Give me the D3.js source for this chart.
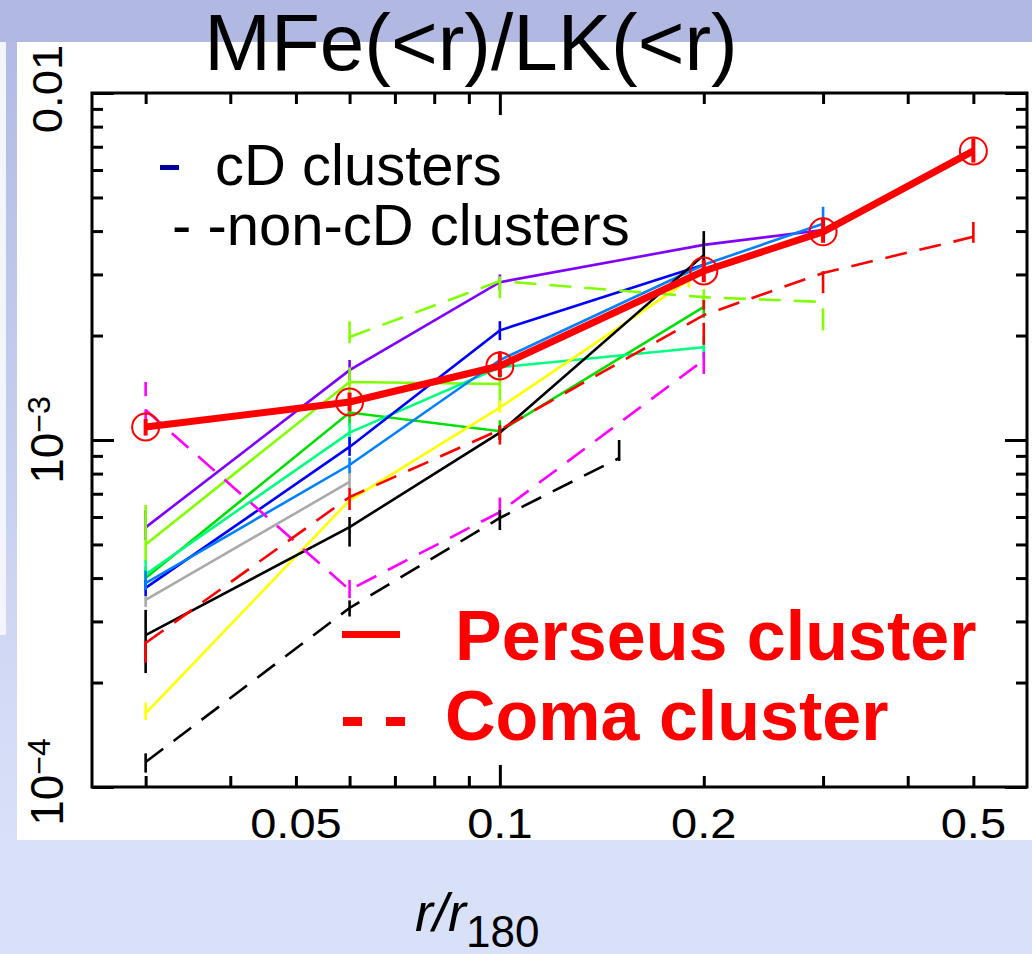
<!DOCTYPE html>
<html>
<head>
<meta charset="utf-8">
<script src="https://cdn.jsdelivr.net/npm/d3@7/dist/d3.min.js"></script>
<style>
  html, body { margin: 0; padding: 0; background: #d9e1f9; }
  svg { display: block; }
  text { font-family: "Liberation Sans", Arial, sans-serif; }
</style>
</head>
<body>
<svg id="chart" width="1032" height="954"></svg>
<script>
// ---- radii (r / r180) sampled by each profile ----
const rAll    = [0.03, 0.06, 0.1, 0.2, 0.3, 0.5];
const rTo03   = [0.03, 0.06, 0.1, 0.2, 0.3];
const rTo02   = [0.03, 0.06, 0.1, 0.2];
const rTo01   = [0.03, 0.06, 0.1];
const rTo006  = [0.03, 0.06];
const rYellow = [0.03, 0.06, 0.1, 0.19];
const rLime   = [0.06, 0.1, 0.2, 0.3];
const rShort  = [0.03, 0.06, 0.1, 0.15];

// ---- MFe(<r)/LK(<r) profiles: value, lower and upper error ----
const purpleVal = [5.6e-4, 1.59e-3, 2.85e-3, 3.65e-3, 4.03e-3];
const purpleLo  = [5.15e-4, 1.49e-3, 2.7e-3, 3.45e-3, 3.9e-3];
const purpleHi  = [6.28e-4, 1.70e-3, 3.0e-3, 3.8e-3, 4.15e-3];

const chartVal  = [5.0e-4, 1.47e-3, 1.45e-3];
const chartLo   = [4.45e-4, 1.36e-3, 1.24e-3];
const chartHi   = [6.5e-4, 1.62e-3, 1.56e-3];

const greenVal  = [4.0e-4, 1.2e-3, 1.06e-3, 2.42e-3];
const greenLo   = [3.7e-4, 1.1e-3, 1.0e-3, 2.25e-3];
const greenHi   = [4.3e-4, 1.3e-3, 1.14e-3, 2.6e-3];

const springVal = [4.1e-4, 1.05e-3, 1.62e-3, 1.85e-3];
const springLo  = [3.95e-4, 9.7e-4, 1.5e-3, 1.72e-3];
const springHi  = [4.5e-4, 1.12e-3, 1.72e-3, 2.0e-3];

const blueVal   = [3.75e-4, 9.55e-4, 2.07e-3, 3.2e-3];
const blueLo    = [3.55e-4, 9.0e-4, 1.94e-3, 3.05e-3];
const blueHi    = [3.95e-4, 1.02e-3, 2.2e-3, 3.35e-3];

const azureVal  = [3.87e-4, 8.47e-4, 1.70e-3, 3.2e-3, 4.2e-3];
const azureLo   = [3.7e-4, 8.0e-4, 1.6e-3, 3.05e-3, 3.9e-3];
const azureHi   = [4.2e-4, 8.9e-4, 1.8e-3, 3.35e-3, 4.7e-3];

const grayVal   = [3.46e-4, 7.57e-4];
const grayLo    = [3.3e-4, 7.2e-4];
const grayHi    = [3.55e-4, 8.0e-4];

const yellowVal = [1.63e-4, 6.7e-4, 1.24e-3, 2.89e-3];
const yellowLo  = [1.56e-4, 6.4e-4, 1.2e-3, 2.75e-3];
const yellowHi  = [1.75e-4, 7.0e-4, 1.3e-3, 3.0e-3];

const blackVal  = [2.74e-4, 5.61e-4, 1.05e-3, 3.41e-3];
const blackLo   = [2.13e-4, 4.93e-4, 1.0e-3, 3.05e-3];
const blackHi   = [3.24e-4, 6.0e-4, 1.1e-3, 4.0e-3];

const comaVal   = [2.6e-4, 6.85e-4, 1.07e-3, 2.29e-3, 3.03e-3, 3.85e-3];
const comaLo    = [2.28e-4, 6.28e-4, 9.7e-4, 1.88e-3, 2.65e-3, 3.7e-3];
const comaHi    = [2.75e-4, 7.4e-4, 1.1e-3, 2.53e-3, 3.33e-3, 4.25e-3];

const magentaVal = [1.22e-3, 3.7e-4, 6.2e-4, 1.7e-3];
const magentaLo  = [1.06e-3, 3.5e-4, 5.9e-4, 1.55e-3];
const magentaHi  = [1.47e-3, 3.95e-4, 6.9e-4, 1.94e-3];

const limeDashVal = [1.98e-3, 2.87e-3, 2.58e-3, 2.5e-3];
const limeDashLo  = [1.9e-3, 2.56e-3, 2.45e-3, 2.07e-3];
const limeDashHi  = [2.22e-3, 3.2e-3, 2.72e-3, 2.55e-3];

const blackDashVal = [1.18e-4, 3.28e-4, 5.96e-4, 8.87e-4];
const blackDashLo  = [1.1e-4, 3.1e-4, 5.5e-4, 8.7e-4];
const blackDashHi  = [1.25e-4, 3.45e-4, 6.28e-4, 1.0e-3];

const perseusVal = [1.09e-3, 1.287e-3, 1.634e-3, 3.07e-3, 3.98e-3, 6.81e-3];
const perseusLo  = [1.03e-3, 1.21e-3, 1.52e-3, 2.85e-3, 3.7e-3, 6.3e-3];
const perseusHi  = [1.15e-3, 1.37e-3, 1.8e-3, 3.3e-3, 4.35e-3, 7.4e-3];

// ---- axis ticks and labels ----
const xMinorTicks = [0.03, 0.04, 0.05, 0.06, 0.07, 0.08, 0.09, 0.2, 0.3, 0.4, 0.5];
const xMajorTicks = [0.1];
const xLabels     = [0.05, 0.1, 0.2, 0.5];
const yMinorTicks = [2e-4, 3e-4, 4e-4, 5e-4, 6e-4, 7e-4, 8e-4, 9e-4,
                     2e-3, 3e-3, 4e-3, 5e-3, 6e-3, 7e-3, 8e-3, 9e-3];
const yMajorTicks = [1e-4, 1e-3, 1e-2];

// ---- series table built from the arrays above ----
const series = [
  { r: rTo03,   v: purpleVal,    lo: purpleLo,    hi: purpleHi,    color: "#8000ff", dash: null },
  { r: rTo01,   v: chartVal,     lo: chartLo,     hi: chartHi,     color: "#80ff00", dash: null },
  { r: rTo02,   v: greenVal,     lo: greenLo,     hi: greenHi,     color: "#00e000", dash: null },
  { r: rTo02,   v: springVal,    lo: springLo,    hi: springHi,    color: "#00ff80", dash: null },
  { r: rTo02,   v: blueVal,      lo: blueLo,      hi: blueHi,      color: "#0000ff", dash: null },
  { r: rTo03,   v: azureVal,     lo: azureLo,     hi: azureHi,     color: "#0080ff", dash: null },
  { r: rTo006,  v: grayVal,      lo: grayLo,      hi: grayHi,      color: "#aaaaaa", dash: null },
  { r: rYellow, v: yellowVal,    lo: yellowLo,    hi: yellowHi,    color: "#ffff00", dash: null },
  { r: rTo02,   v: blackVal,     lo: blackLo,     hi: blackHi,     color: "#000000", dash: null },
  { r: rTo02,   v: magentaVal,   lo: magentaLo,   hi: magentaHi,   color: "#ff00ff", dash: "22,13" },
  { r: rLime,   v: limeDashVal,  lo: limeDashLo,  hi: limeDashHi,  color: "#80ff00", dash: "22,13" },
  { r: rShort,  v: blackDashVal, lo: blackDashLo, hi: blackDashHi, color: "#000000", dash: "22,13" },
  { r: rAll,    v: comaVal,      lo: comaLo,      hi: comaHi,      color: "#ff0000", dash: "22,13" }
];

const svg = d3.select("#chart");
const W = 1032, H = 954;

// ---- slide backdrop ----
const defs = svg.append("defs");
const grad = defs.append("linearGradient").attr("id", "sideGrad")
  .attr("x1", 0).attr("y1", 0).attr("x2", 0).attr("y2", 1);
grad.append("stop").attr("offset", "0%").attr("stop-color", "#b3bbe5");
grad.append("stop").attr("offset", "100%").attr("stop-color", "#d9e1f9");

svg.append("rect").attr("x", 0).attr("y", 0).attr("width", W).attr("height", H).attr("fill", "#d9e1f9");
svg.append("rect").attr("x", 0).attr("y", 0).attr("width", W).attr("height", 42).attr("fill", "#b1b9e3");
svg.append("rect").attr("x", 0).attr("y", 42).attr("width", 17).attr("height", 798).attr("fill", "url(#sideGrad)");
svg.append("rect").attr("x", 0).attr("y", 42).attr("width", 6).attr("height", 593).attr("fill", "#f3f5fc");
svg.append("rect").attr("x", 17).attr("y", 42).attr("width", W - 17).attr("height", 798).attr("fill", "#ffffff");

// ---- plot geometry ----
const pLeft = 92, pRight = 1027, pTop = 93, pBottom = 787;
const x = d3.scaleLog().domain([0.025, 0.6]).range([pLeft, pRight]);
const y = d3.scaleLog().domain([1e-4, 1e-2]).range([pBottom, pTop]);

// ---- ticks on all four sides, pointing inward ----
const tickStyle = g => {
  g.select(".domain").remove();
  g.selectAll(".tick line").attr("stroke", "#000").attr("stroke-width", 3);
  g.selectAll(".tick text").remove();
};
[[xMinorTicks, 11], [xMajorTicks, 22]].forEach(([vals, len]) => {
  svg.append("g").attr("transform", `translate(0,${pBottom})`)
    .call(d3.axisBottom(x).tickValues(vals).tickSize(-len).tickFormat(""))
    .call(tickStyle);
  svg.append("g").attr("transform", `translate(0,${pTop})`)
    .call(d3.axisTop(x).tickValues(vals).tickSize(-len).tickFormat(""))
    .call(tickStyle);
});
[[yMinorTicks, 11], [yMajorTicks, 22]].forEach(([vals, len]) => {
  svg.append("g").attr("transform", `translate(${pLeft},0)`)
    .call(d3.axisLeft(y).tickValues(vals).tickSize(-len).tickFormat(""))
    .call(tickStyle);
  svg.append("g").attr("transform", `translate(${pRight},0)`)
    .call(d3.axisRight(y).tickValues(vals).tickSize(-len).tickFormat(""))
    .call(tickStyle);
});

// ---- frame ----
svg.append("rect").attr("x", pLeft).attr("y", pTop)
  .attr("width", pRight - pLeft).attr("height", pBottom - pTop)
  .attr("fill", "none").attr("stroke", "#000").attr("stroke-width", 3);

// ---- x tick labels (slightly wide face) ----
svg.append("g").selectAll("text").data(xLabels).join("text")
  .attr("transform", d => `translate(${x(d)},838) scale(1.12,1)`)
  .attr("text-anchor", "middle").attr("font-size", 42)
  .attr("fill", "#000")
  .text(d => String(d));

// ---- y tick labels (rotated) ----
const yLab = svg.append("g");
yLab.append("text")
  .attr("transform", `translate(62,${y(1e-2) - 4}) rotate(-90) scale(1.08,1)`)
  .attr("text-anchor", "middle").attr("font-size", 42).attr("fill", "#000")
  .text("0.01");
[[1e-3, "\u22123"], [1e-4, "\u22124"]].forEach(([v, exp], i) => {
  const t = yLab.append("text")
    .attr("transform", `translate(63,${y(v) - (i === 1 ? 5 : 0)}) rotate(-90)`)
    .attr("text-anchor", "middle").attr("font-size", 46).attr("fill", "#000");
  t.append("tspan").text("10");
  t.append("tspan").attr("font-size", 32).attr("dy", -13).text(exp);
});

// ---- profiles ----
const line = d3.line().x(d => x(d[0])).y(d => y(d[1]));
const plot = svg.append("g");

series.forEach(s => {
  const pts = s.r.map((r, i) => [r, s.v[i], s.lo[i], s.hi[i]]);
  const g = plot.append("g");
  g.selectAll("line").data(pts).join("line")
    .attr("x1", d => x(d[0])).attr("x2", d => x(d[0]))
    .attr("y1", d => y(d[2])).attr("y2", d => y(d[3]))
    .attr("stroke", s.color).attr("stroke-width", 2.6)
    .attr("stroke-dasharray", s.dash);
  g.append("path").datum(pts).attr("d", line)
    .attr("fill", "none").attr("stroke", s.color).attr("stroke-width", 2.6)
    .attr("stroke-dasharray", s.dash);
});

// ---- Perseus cluster ----
const pPts = rAll.map((r, i) => [r, perseusVal[i], perseusLo[i], perseusHi[i]]);
plot.append("path").datum(pPts).attr("d", line)
  .attr("fill", "none").attr("stroke", "#ff0000").attr("stroke-width", 7)
  .attr("stroke-linejoin", "round");
plot.append("g").selectAll("line").data(pPts).join("line")
  .attr("x1", d => x(d[0])).attr("x2", d => x(d[0]))
  .attr("y1", d => y(d[2])).attr("y2", d => y(d[3]))
  .attr("stroke", "#ff0000").attr("stroke-width", 4);
plot.append("g").selectAll("circle").data(pPts).join("circle")
  .attr("cx", d => x(d[0])).attr("cy", d => y(d[1])).attr("r", 13.5)
  .attr("fill", "none").attr("stroke", "#ff0000").attr("stroke-width", 2);

// ---- legends ----
svg.append("rect").attr("x", 160).attr("y", 165).attr("width", 19).attr("height", 5).attr("fill", "#000099");
svg.append("text").attr("x", 215).attr("y", 185).attr("font-size", 58).attr("fill", "#000").text("cD clusters");
svg.append("text").attr("x", 172).attr("y", 245).attr("font-size", 58).attr("fill", "#000").text("- -non-cD clusters");

svg.append("rect").attr("x", 342).attr("y", 631).attr("width", 58).attr("height", 7).attr("fill", "#ff0000");
svg.append("rect").attr("x", 343).attr("y", 717).attr("width", 19).attr("height", 9).attr("fill", "#ff0000");
svg.append("rect").attr("x", 386).attr("y", 717).attr("width", 19).attr("height", 9).attr("fill", "#ff0000");
svg.append("text").attr("x", 455).attr("y", 660).attr("font-size", 70).attr("font-weight", "bold")
  .attr("fill", "#ff0000").text("Perseus cluster");
svg.append("text").attr("x", 445).attr("y", 740).attr("font-size", 70).attr("font-weight", "bold")
  .attr("fill", "#ff0000").text("Coma cluster");

// ---- title ----
svg.append("text").attr("x", 471).attr("y", 70).attr("text-anchor", "middle")
  .attr("font-size", 80).attr("fill", "#000").text("MFe(<r)/LK(<r)");

// ---- x axis title ----
const xt = svg.append("text").attr("x", 415).attr("y", 931).attr("fill", "#000");
xt.append("tspan").attr("font-style", "italic").attr("font-size", 54).text("r/r");
xt.append("tspan").attr("font-size", 44).attr("dy", 16).text("180");
</script>
</body>
</html>
